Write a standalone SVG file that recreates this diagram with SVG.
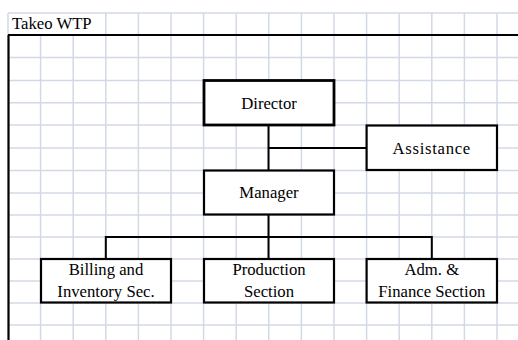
<svg xmlns="http://www.w3.org/2000/svg" width="518" height="340" viewBox="0 0 518 340">
  <style>
    .grid { stroke: #d2d9e6; stroke-width: 1.5; fill: none; }
    .box { fill: #ffffff; stroke: #000000; stroke-width: 2.2; }
    .box.main { stroke-width: 2.8; }
    .wire { stroke: #000000; stroke-width: 2; fill: none; }
    text { font-family: 'Liberation Serif', 'DejaVu Serif', serif; font-size: 16.7px; fill: #000000; }
    .lbl { text-anchor: middle; }
  </style>

  <rect x="0" y="0" width="518" height="340" fill="#ffffff"/>

  <!-- spreadsheet grid -->
  <g id="grid">
    <path class="grid" d="M8 13H518 M8 57.5H518 M8 80.5H518 M8 102.7H518 M8 125H518 M8 148H518 M8 170.5H518 M8 193H518 M8 215H518 M8 237H518 M8 259H518 M8 281H518 M8 303H518 M8 325H518"/>
    <path class="grid" d="M8 13V35 M105.8 13V340 M138.4 13V340 M171 13V340 M203.6 13V340 M236.2 13V340 M268.8 13V340 M301.4 13V340 M334 13V340 M366.6 13V340 M399.2 13V340 M431.8 13V340 M464.4 13V340 M497 13V340"/>
    <path class="grid" d="M40.6 35V340 M73.2 35V340"/>
    <!-- sheet frame -->
    <path d="M8 35H518 M8.5 35V340" stroke="#000000" stroke-width="2.2" fill="none"/>
    <text font-family="Liberation Serif, serif" x="12" y="29">Takeo WTP</text>
  </g>

  <!-- reporting lines -->
  <g id="connectors">
    <path class="wire" d="M268.5 125V170.5 M268.5 148H366.6"/>
    <path class="wire" d="M268.5 215V259 M105.8 237H431.8 M105.8 236V259 M431.8 236V259"/>
  </g>

  <g id="director">
    <rect class="box main" x="204" y="80.5" width="130" height="44.5"/>
    <text class="lbl" x="269" y="108.5">Director</text>
  </g>

  <g id="assistance">
    <rect class="box" x="366.6" y="125.5" width="130.4" height="44.5"/>
    <text class="lbl" x="431.8" y="153.5" letter-spacing="0.7">Assistance</text>
  </g>

  <g id="manager">
    <rect class="box" x="204" y="170.5" width="130" height="44"/>
    <text class="lbl" x="269" y="197.5">Manager</text>
  </g>

  <g id="billing">
    <rect class="box" x="41" y="259" width="130" height="43.5"/>
    <text class="lbl" x="106" y="275">Billing and</text>
    <text class="lbl" x="106" y="297">Inventory Sec.</text>
  </g>

  <g id="production">
    <rect class="box" x="204" y="259" width="130" height="43.5"/>
    <text class="lbl" x="269" y="275">Production</text>
    <text class="lbl" x="269" y="297">Section</text>
  </g>

  <g id="finance">
    <rect class="box" x="366.6" y="259" width="130.4" height="43.5"/>
    <text class="lbl" x="431.8" y="275">Adm. &amp;</text>
    <text class="lbl" x="431.8" y="297">Finance Section</text>
  </g>
</svg>
